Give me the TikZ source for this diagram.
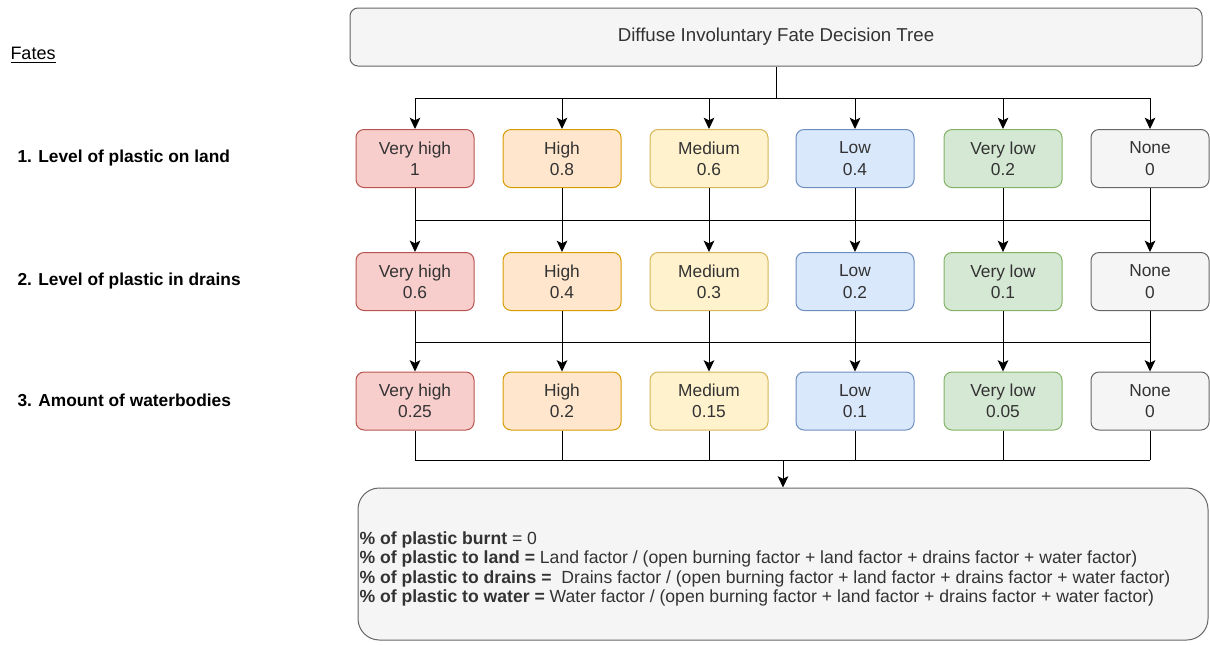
\documentclass[tikz,border=0pt]{standalone}
\usepackage{fontspec}
\setmainfont{Liberation Sans}
\usepackage{tikz}
\usetikzlibrary{arrows.meta,positioning}
\definecolor{vhfill}{HTML}{F8CECC}\definecolor{vhline}{HTML}{B85450}
\definecolor{hfill}{HTML}{FFE6CC}\definecolor{hline}{HTML}{D79B00}
\definecolor{mfill}{HTML}{FFF2CC}\definecolor{mline}{HTML}{D6B656}
\definecolor{lfill}{HTML}{DAE8FC}\definecolor{lline}{HTML}{6C8EBF}
\definecolor{vlfill}{HTML}{D5E8D4}\definecolor{vlline}{HTML}{82B366}
\definecolor{nfill}{HTML}{F5F5F5}\definecolor{nline}{HTML}{666666}
\definecolor{txtgray}{HTML}{333333}

\begin{document}
\begin{tikzpicture}[x=0.75pt, y=-0.75pt, line width=0.75pt, >={Stealth[length=8.5pt,width=8pt,inset=2pt]},
level node/.style={draw,rounded corners=6pt,minimum width=88.5pt,minimum height=43.5pt,inner sep=0pt,align=center,text=txtgray,font=\fontsize{13}{16}\selectfont},
vh node/.style={level node,fill=vhfill,draw=vhline},
h node/.style={level node,fill=hfill,draw=hline},
m node/.style={level node,fill=mfill,draw=mline},
l node/.style={level node,fill=lfill,draw=lline},
vl node/.style={level node,fill=vlfill,draw=vlline},
n node/.style={level node,fill=nfill,draw=nline},
fate label/.style={anchor=west,inner sep=0pt,font=\fontsize{13}{15.75}\selectfont\bfseries}]
\useasboundingbox (0,0) rectangle (1210,644);
\begin{scope}
\node[draw=nline,fill=nfill,rounded corners=6pt,minimum width=639pt,minimum height=43.5pt,text=txtgray,font=\fontsize{14}{17}\selectfont] (tree) at (776,37) {Diffuse Involuntary Fate Decision Tree};
\node[anchor=west,inner sep=0pt,font=\fontsize{13.5}{17}\selectfont] (fates) at (10,55) {\underline{Fates}};
\node[fate label] (f1) at (17,158) {1. Level of plastic on land};
\node[fate label] (f2) at (17,281) {2. Level of plastic in drains};
\node[fate label] (f3) at (17,400) {3. Amount of waterbodies};
% level 1
\node[vh node] (a1) at (415,158.5) {Very high\\1};
\node[h node] (a2) at (562,158.5) {High\\0.8};
\node[m node] (a3) at (709,158.5) {Medium\\0.6};
\node[l node] (a4) at (855,158.5) {Low\\0.4};
\node[vl node] (a5) at (1003,158.5) {Very low\\0.2};
\node[n node] (a6) at (1150,158.5) {None\\0};
% level 2
\node[vh node] (b1) at (415,281.5) {Very high\\0.6};
\node[h node] (b2) at (562,281.5) {High\\0.4};
\node[m node] (b3) at (709,281.5) {Medium\\0.3};
\node[l node] (b4) at (855,281.5) {Low\\0.2};
\node[vl node] (b5) at (1003,281.5) {Very low\\0.1};
\node[n node] (b6) at (1150,281.5) {None\\0};
% level 3
\node[vh node] (c1) at (415,401) {Very high\\0.25};
\node[h node] (c2) at (562,401) {High\\0.2};
\node[m node] (c3) at (709,401) {Medium\\0.15};
\node[l node] (c4) at (855,401) {Low\\0.1};
\node[vl node] (c5) at (1003,401) {Very low\\0.05};
\node[n node] (c6) at (1150,401) {None\\0};
\node[draw=nline,fill=nfill,rounded corners=16pt,minimum width=637.5pt,minimum height=114pt] (result) at (783,564) {};
\node[anchor=west,inner sep=0pt,align=left,text=txtgray,font=\fontsize{13.2}{14.6}\selectfont] (resulttext) at (359,569)
{\textbf{\% of plastic burnt} = 0\\
\textbf{\% of plastic to land =} Land factor / (open burning factor + land factor + drains factor + water factor)\\
\textbf{\% of plastic to drains =}\ \ Drains factor / (open burning factor + land factor + drains factor + water factor)\\
\textbf{\% of plastic to water =} Water factor / (open burning factor + land factor + drains factor + water factor)};
\coordinate (j0) at (776,98);
\coordinate (j1) at (776,220);
\coordinate (j2) at (776,342);
\coordinate (j3) at (783,460);
\end{scope}
\begin{scope}
\draw (tree) -- (j0);
\draw (a1 |- j0) -- (a6 |- j0);
\path[->] (a1 |- j0) edge (a1) (a2 |- j0) edge (a2) (a3 |- j0) edge (a3) (a4 |- j0) edge (a4) (a5 |- j0) edge (a5) (a6 |- j0) edge (a6);
\draw (a1 |- j1) -- (a6 |- j1);
\path[->] (a1) edge (b1) (a2) edge (b2) (a3) edge (b3) (a4) edge (b4) (a5) edge (b5) (a6) edge (b6);
\draw (b1 |- j2) -- (b6 |- j2);
\path[->] (b1) edge (c1) (b2) edge (c2) (b3) edge (c3) (b4) edge (c4) (b5) edge (c5) (b6) edge (c6);
\path (c1) edge (c1 |- j3) (c2) edge (c2 |- j3) (c3) edge (c3 |- j3) (c4) edge (c4 |- j3) (c5) edge (c5 |- j3) (c6) edge (c6 |- j3);
\draw (c1 |- j3) -- (c6 |- j3);
\draw[->] (j3) -- (result);
\end{scope}
\end{tikzpicture}
\end{document}
